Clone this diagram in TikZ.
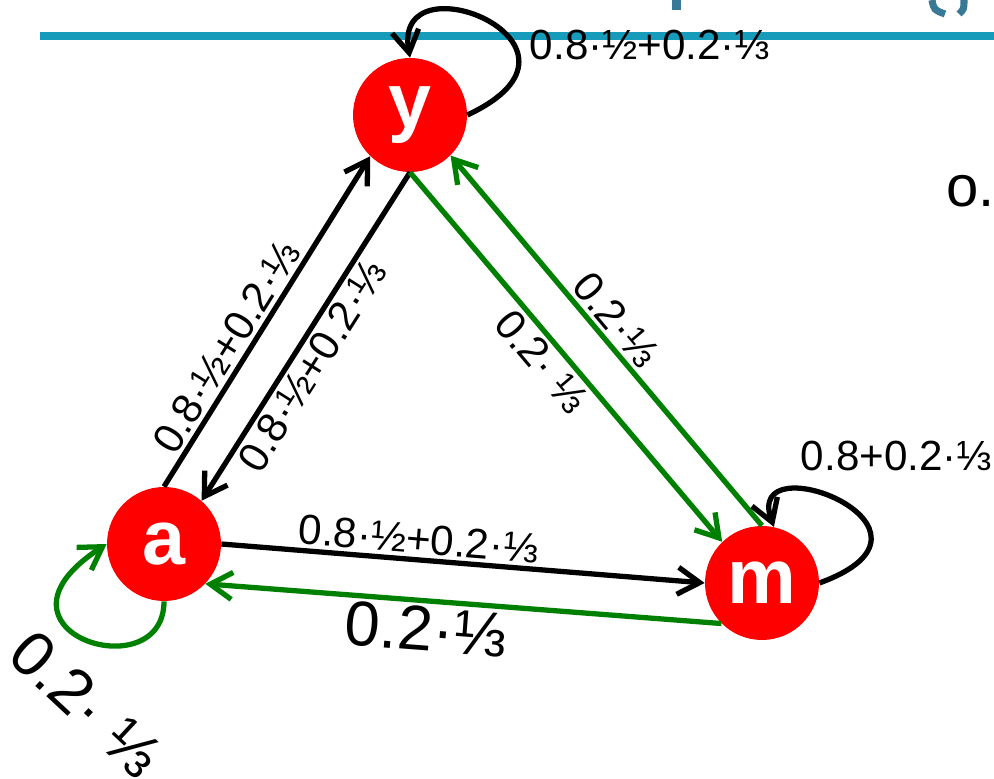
\documentclass[tikz,border=0pt]{standalone}
\usepackage{fontspec}
\setmainfont{Liberation Sans}
\usetikzlibrary{arrows.meta}
\definecolor{slidebar}{RGB}{22,156,186}
\definecolor{titlegrey}{RGB}{56,122,150}
\definecolor{linkgreen}{RGB}{0,128,0}
\tikzset{
    mc state/.style={
        circle,
        fill=red,
        inner sep=0pt,
        minimum size=2.28cm,
        text=white,
        font=\fontsize{44}{44}\selectfont\bfseries
    },
    mc link/.style={-{Straight Barb[length=0.44cm,width=0.54cm]}, line width=3pt},
    mc back/.style={mc link, draw=linkgreen},
    mc label/.style={font=\fontsize{24}{26}\selectfont, inner sep=2pt},
    mc big label/.style={font=\fontsize{36}{40}\selectfont, inner sep=2pt}
}

\begin{document}
\begin{tikzpicture}[x=0.02cm,y=0.02cm]
    \useasboundingbox (0,0) rectangle (994,778);

    % slide header remains
    \fill[slidebar] (40,738) rectangle (994,746);
    \fill[titlegrey] (672,768) rectangle (681,778);
    \draw[titlegrey, line width=4pt] (932,778) .. controls (934,768) .. (945,764);
    \draw[titlegrey, line width=4pt] (964,778) .. controls (964,769) .. (959,764);
    \node[font=\fontsize{33}{33}\selectfont, anchor=base west] (cut) at (940,571) {o.};

    \node[mc state] (y) at (410,663) {y};
    \node[mc state] (a) at (164,234) {a};
    \node[mc state] (m) at (762,195) {m};

    \draw[mc link] (a.north) --
        node[mc label, sloped, above, pos=0.39] (lay) {0.8·½+0.2·⅓}
        (y.226);
    \draw[mc link] (y.south) --
        node[mc label, sloped, below, pos=0.555] (lya) {0.8·½+0.2·⅓}
        (a.49);
    \draw[mc back] (y.south) --
        node[mc label, sloped, below, pos=0.475] (lym) {0.2· ⅓}
        (m.134);
    \draw[mc back] (m.north) --
        node[mc label, sloped, above, pos=0.52] (lmy) {0.2·⅓}
        (y.315);
    \draw[mc link] (a.east) --
        node[mc label, sloped, above, pos=0.405] (lam) {0.8·½+0.2·⅓}
        (m.west);
    \draw[mc back] (m.225) --
        node[mc big label, sloped, below, pos=0.568] (lma) {0.2·⅓}
        (a.316);

    % self loops
    \draw[mc link] (y.east) .. controls +(25:165) and +(100:105) .. (y.north);
    \node[mc label, anchor=west] (lyy) at (526,733) {0.8·½+0.2·⅓};

    \draw[mc link] (m.east) .. controls +(20:160) and +(110:92) .. (m.78);
    \node[mc label, anchor=west] (lmm) at (797,322) {0.8+0.2·⅓};

    \draw[mc back] (a.south) .. controls +(-90:90) and +(213:160) .. (a.west);
    \node[mc big label, rotate=-43] (laa) at (86,74) {0.2· ⅓};
\end{tikzpicture}
\end{document}
